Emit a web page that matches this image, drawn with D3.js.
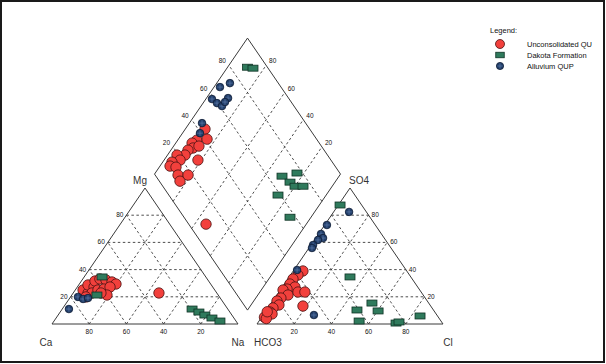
<!DOCTYPE html>
<html><head><meta charset="utf-8">
<script src="https://cdn.jsdelivr.net/npm/d3@7/dist/d3.min.js"></script>
<style>body{margin:0;background:#fff}svg{display:block}text{font-family:"Liberation Sans",Arial,sans-serif}</style>
</head><body>
<svg id="c" width="606" height="364"></svg>
<script>
// ---- data (percent values) ----
const seriesNames = ["Unconsolidated QU", "Dakota Formation", "Alluvium QUP"];
const tickValues = [20, 40, 60, 80];
const cationLabels = ["Ca", "Mg", "Na"];
const anionLabels = ["HCO3", "SO4", "Cl"];
// cation triangle: [Na, Mg]
const quCation = [[4.2,25.0],[8.0,22.8],[5.0,28.7],[9.0,27.2],[7.3,31.6],[9.2,33.1],[12.8,32.4],[16.8,30.9],[19.7,29.4],[10.1,22.8],[12.2,25.0],[15.1,25.7],[17.6,27.2],[18.9,21.3],[14.9,22.8],[8.3,19.9],[46.1,22.8]];
const dkCation = [[9.6,34.6],[13.5,21.3],[69.8,11.0],[74.6,8.8],[78.9,6.6],[83.8,4.4],[89.2,2.2]];
const alCation = [[3.6,11.0],[4.0,19.9],[7.5,18.4],[9.8,19.1]];
// anion triangle: [Cl, SO4]
const quAnion = [[5.2,39.0],[4.0,36.0],[2.8,33.1],[3.0,29.4],[6.8,27.2],[3.3,25.7],[1.5,25.0],[6.0,21.3],[10.3,23.5],[14.0,23.5],[3.3,19.1],[2.3,16.9],[4.8,14.0],[2.7,11.8],[2.6,8.8],[2.1,6.6],[4.4,7.4],[18.1,13.2],[1.5,5.0],[3.0,4.0],[1.0,9.0]];
const dkAnion = [[0.9,87.5],[32.7,34.6],[54.1,15.4],[48.6,10.3],[60.3,9.6],[53.8,2.2],[74.4,0.7],[75.6,1.5],[84.7,5.9]];
const alAnion = [[8.3,82.4],[1.2,72.8],[1.3,66.2],[3.9,63.2],[1.9,61.8],[1.1,58.1],[1.6,55.9],[1.7,39.7],[27.3,6.6]];
// diamond: [Ca+Mg, SO4+Cl]
const quDiamond = [[89.4,43.7],[89.7,35.3],[84.6,41.1],[91.2,31.6],[88.9,30.3],[86.4,34.2],[90.8,26.8],[90.6,23.4],[94.9,19.1],[91.4,18.9],[95.0,13.8],[94.6,11.3],[91.0,14.1],[81.8,28.5],[87.0,12.3],[83.7,11.1],[81.6,17.7],[53.9,9.3]];
const dkDiamond = [[89.3,89.3],[86.0,91.9],[30.7,67.8],[23.8,77.0],[24.2,69.9],[20.0,71.1],[15.7,75.4],[25.9,58.7],[11.3,57.0]];
const alDiamond = [[93.2,44.3],[90.6,39.5],[96.8,67.2],[92.9,74.0],[96.7,58.5],[92.5,59.7],[88.7,61.3],[88.4,67.5],[88.6,64.4]];

// ---- layout ----
const side = 186, H = 136, baseY = 324, leftX = 52, gap = 19;
const rightX = leftX + side + gap;
const Bx = leftX + side + gap / 2, By = baseY - gap * H / side;

const svg = d3.select("#c");
svg.append("rect").attr("x", 1).attr("y", 1).attr("width", 603).attr("height", 361)
  .attr("fill", "#fff").attr("stroke", "#1a1a1a").attr("stroke-width", 2);

const yTri = d3.scaleLinear().domain([0, 100]).range([baseY, baseY - H]);
const xCat = d3.scaleLinear().domain([0, 100]).range([leftX, leftX + side]);
const xAn = d3.scaleLinear().domain([0, 100]).range([rightX, rightX + side]);
const xDia = d3.scaleLinear().domain([-100, 100]).range([Bx - side / 2, Bx + side / 2]);
const yDia = d3.scaleLinear().domain([0, 200]).range([By, By - 2 * H]);

const cat = (p, q) => [xCat(p + q / 2), yTri(q)];      // [Na, Mg]
const an = (p, q) => [xAn(p + q / 2), yTri(q)];        // [Cl, SO4]
const dia = (a, b) => [xDia(b - a), yDia(a + b)];      // [CaMg, SO4Cl]

const gGrid = svg.append("g").attr("fill", "none").attr("stroke", "#3a3a3a").attr("stroke-width", 0.9).attr("stroke-dasharray", "2.5,2.5");
const gOut = svg.append("g").attr("fill", "none").attr("stroke", "#3a3a3a").attr("stroke-width", 1);
const gTxt = svg.append("g").attr("fill", "#111");
const line = d3.line();

function seg(g, a, b) { g.append("path").attr("d", line([a, b])); }

// triangles
[cat, an].forEach(f => {
  gOut.append("path").attr("d", line([f(0, 0), f(100, 0), f(0, 100)]) + "Z");
  tickValues.forEach(t => {
    seg(gGrid, f(0, t), f(100 - t, t));
    seg(gGrid, f(t, 0), f(t, 100 - t));
    seg(gGrid, f(100 - t, 0), f(0, 100 - t));
  });
});
// diamond
gOut.append("path").attr("d", line([dia(0, 0), dia(100, 0), dia(100, 100), dia(0, 100)]) + "Z");
tickValues.forEach(t => {
  seg(gGrid, dia(t, 0), dia(t, 100));
  seg(gGrid, dia(0, t), dia(100, t));
});

// tick labels
const fs = 6.5;
tickValues.forEach(t => {
  let p = cat(0, t);
  gTxt.append("text").attr("x", p[0] - 3).attr("y", p[1] + 2).attr("text-anchor", "end").attr("font-size", fs).text(t);
  p = cat(100 - t, 0);
  gTxt.append("text").attr("x", p[0]).attr("y", p[1] + 10).attr("text-anchor", "middle").attr("font-size", fs).text(t);
  p = an(100 - t, t);
  gTxt.append("text").attr("x", p[0] + 3).attr("y", p[1] + 2).attr("text-anchor", "start").attr("font-size", fs).text(t);
  p = an(t, 0);
  gTxt.append("text").attr("x", p[0]).attr("y", p[1] + 10).attr("text-anchor", "middle").attr("font-size", fs).text(t);
  p = dia(100, t);
  gTxt.append("text").attr("x", p[0] - 3).attr("y", p[1] - 2).attr("text-anchor", "end").attr("font-size", fs).text(t);
  p = dia(t, 100);
  gTxt.append("text").attr("x", p[0] + 3).attr("y", p[1] - 2).attr("text-anchor", "start").attr("font-size", fs).text(t);
});

// axis names
const afs = 10;
function lab(txt, x, y, anchor) {
  gTxt.append("text").attr("x", x).attr("y", y).attr("text-anchor", anchor).attr("font-size", afs).attr("fill", "#333").text(txt);
}
let q = cat(0, 0); lab(cationLabels[0], q[0] - 6, q[1] + 22, "middle");
q = cat(0, 100); lab(cationLabels[1], q[0] - 5, q[1] - 4, "middle");
q = cat(100, 0); lab(cationLabels[2], q[0], q[1] + 22, "middle");
q = an(0, 0); lab(anionLabels[0], q[0] + 11, q[1] + 22, "middle");
q = an(0, 100); lab(anionLabels[1], q[0] + 9, q[1] - 4, "middle");
q = an(100, 0); lab(anionLabels[2], q[0] + 5, q[1] + 22, "middle");

// markers
const gPts = svg.append("g");
function red(g, x, y, r) {
  g.append("circle").attr("cx", x).attr("cy", y).attr("r", r).attr("fill", "#f2403c").attr("stroke", "#4a1212").attr("stroke-width", 0.8);
}
function green(g, x, y, w, h) {
  g.append("rect").attr("x", x - w / 2).attr("y", y - h / 2).attr("width", w).attr("height", h)
    .attr("fill", "#2f7a5c").attr("stroke", "#0f3325").attr("stroke-width", 0.8);
}
function blue(g, x, y, r) {
  g.append("circle").attr("cx", x).attr("cy", y).attr("r", r).attr("fill", "#23406c").attr("stroke", "#0c1a33").attr("stroke-width", 0.8);
  g.append("path").attr("d", `M${x - r * 0.7},${y}H${x + r * 0.7}M${x},${y - r * 0.7}V${y + r * 0.7}`).attr("stroke", "#6482b0").attr("stroke-width", 0.6);
}
const RR = 5.2, BR = 3.8, GW = 10, GH = 6;
[[quCation, cat], [quAnion, an], [quDiamond, dia]].forEach(([d, f]) => d.forEach(v => { const p = f(v[0], v[1]); red(gPts, p[0], p[1], RR); }));
[[dkCation, cat], [dkAnion, an], [dkDiamond, dia]].forEach(([d, f]) => d.forEach(v => { const p = f(v[0], v[1]); green(gPts, p[0], p[1], GW, GH); }));
[[alCation, cat], [alAnion, an], [alDiamond, dia]].forEach(([d, f]) => d.forEach(v => { const p = f(v[0], v[1]); blue(gPts, p[0], p[1], BR); }));

// legend
const gL = svg.append("g");
gL.append("text").attr("x", 490).attr("y", 33).attr("font-size", 7.5).attr("fill", "#111").text("Legend:");
const ly = [44, 55, 66];
red(gL, 500, ly[0], 4.5);
green(gL, 500, ly[1], 8.5, 5.5);
blue(gL, 500, ly[2], 3.6);
seriesNames.forEach((n, i) => gL.append("text").attr("x", 527).attr("y", ly[i] + 2.5).attr("font-size", 7.5).attr("fill", "#111").text(n));
</script>
</body></html>
